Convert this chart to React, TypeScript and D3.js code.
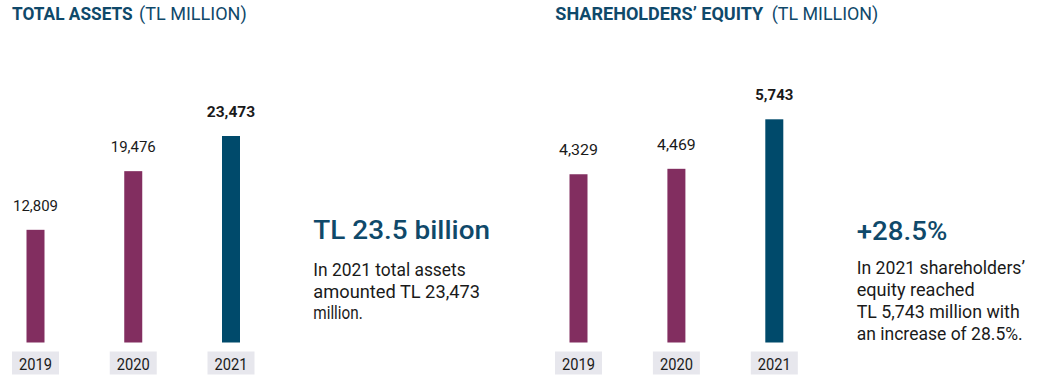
import React from "react";
import * as d3 from "d3";

const years = ["2019", "2020", "2021"];
const totalAssets = [12809, 19476, 23473];
const equity = [4329, 4469, 5743];
const assetLabels = ["12,809", "19,476", "23,473"];
const equityLabels = ["4,329", "4,469", "5,743"];

const PURPLE = "#822e60";
const BLUE = "#004a6b";
const TITLE_BLUE = "#0f496a";
const BOX = "#e7e7ed";
const INK = "#1a1a1a";
const FONT = "Roboto, 'Open Sans', sans-serif";

type TProps = {
  x: number;
  y: number;
  w?: number;
  size: number;
  weight?: number | string;
  fill?: string;
  anchor?: "start" | "middle" | "end";
  children: React.ReactNode;
};
function T({ x, y, w, size, weight = 400, fill = INK, anchor = "start", children }: TProps) {
  return (
    <text
      x={x}
      y={y}
      fontSize={size}
      fontWeight={weight}
      fill={fill}
      textAnchor={anchor}
      fontFamily={FONT}
      {...(w ? { textLength: w, lengthAdjust: "spacingAndGlyphs" } : {})}
    >
      {children}
    </text>
  );
}

type PanelProps = {
  values: number[];
  labels: string[];
  labelWidths: number[];
  xRange: [number, number];
  yTop: number;
};
function Panel({ values, labels, labelWidths, xRange, yTop }: PanelProps) {
  const baseY = 342.5;
  const x = d3.scalePoint<string>().domain(years).range(xRange);
  const y = d3.scaleLinear().domain([0, d3.max(values) as number]).range([baseY, yTop]);
  const barW = 18;
  const boxW = 47;
  const boxH = 23;
  return (
    <g>
      {years.map((yr, i) => {
        const cx = x(yr) as number;
        const last = i === years.length - 1;
        return (
          <g key={yr}>
            <rect
              x={cx - barW / 2}
              y={y(values[i])}
              width={barW}
              height={baseY - y(values[i])}
              fill={last ? BLUE : PURPLE}
            />
            <T
              x={cx}
              y={y(values[i]) - 19}
              size={15}
              weight={last ? 700 : 400}
              anchor="middle"
              w={labelWidths[i]}
            >
              {labels[i]}
            </T>
            <rect x={cx - boxW / 2} y={351.5} width={boxW} height={boxH} fill={BOX} />
            <T x={cx} y={370} size={17} anchor="middle" w={33}>
              {yr}
            </T>
          </g>
        );
      })}
    </g>
  );
}

export default function App() {
  return (
    <svg
      width={1039}
      height={378}
      viewBox="0 0 1039 378"
      style={{ position: "absolute", left: 0, top: 0, background: "#fff" }}
    >
      <rect width={1039} height={378} fill="#fff" />
      {/* Titles */}
      <T x={12} y={20.3} size={18} weight={700} fill={TITLE_BLUE} w={120.7}>
        TOTAL ASSETS
      </T>
      <T x={139} y={20.3} size={18} fill={TITLE_BLUE} w={107.7}>
        (TL MILLION)
      </T>
      <T x={555.3} y={20.3} size={18} weight={700} fill={TITLE_BLUE} w={208}>
        SHAREHOLDERS’ EQUITY
      </T>
      <T x={771.7} y={20.3} size={18} fill={TITLE_BLUE} w={106.6}>
        (TL MILLION)
      </T>

      <Panel
        values={totalAssets}
        labels={assetLabels}
        labelWidths={[45, 45, 48.4]}
        xRange={[35.5, 231]}
        yTop={136}
      />
      <Panel
        values={equity}
        labels={equityLabels}
        labelWidths={[39, 38.7, 38]}
        xRange={[578.5, 774.3]}
        yTop={119.3}
      />

      {/* Left commentary */}
      <T x={313.3} y={238.5} size={25.5} weight={500} fill={TITLE_BLUE} w={176.7}>
        TL 23.5 billion
      </T>
      <T x={313.3} y={276} size={19} w={152.4}>
        In 2021 total assets
      </T>
      <T x={313.3} y={297.5} size={19} w={166.7}>
        amounted TL 23,473
      </T>
      <T x={313.3} y={318.5} size={19} w={49.4}>
        million.
      </T>

      {/* Right commentary */}
      <T x={856.7} y={240} size={25.5} weight={500} fill={TITLE_BLUE} w={90.6}>
        +28.5%
      </T>
      <T x={856.7} y={274} size={19} w={168.3}>
        In 2021 shareholders’
      </T>
      <T x={856.7} y={296} size={19} w={118}>
        equity reached
      </T>
      <T x={856.7} y={318.3} size={19} w={163}>
        TL 5,743 million with
      </T>
      <T x={856.7} y={340.3} size={19} w={166}>
        an increase of 28.5%.
      </T>
    </svg>
  );
}
